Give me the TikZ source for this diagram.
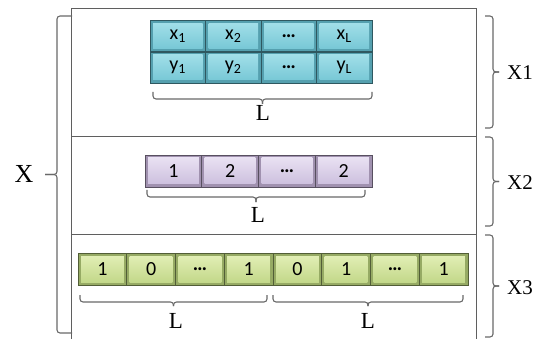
\documentclass[tikz,border=0pt]{standalone}
\usepackage{fontspec}
\setmainfont{Liberation Serif}
\newfontfamily\cellfont{Carlito}
\definecolor{boxline}{RGB}{95,95,95}
\definecolor{brc}{RGB}{105,105,105}
\definecolor{cyanA}{RGB}{160,222,232}
\definecolor{cyanB}{RGB}{120,200,214}
\definecolor{cyanE}{RGB}{85,160,175}
\definecolor{purA}{RGB}{232,224,242}
\definecolor{purB}{RGB}{205,192,222}
\definecolor{purE}{RGB}{160,145,175}
\definecolor{grnA}{RGB}{225,238,180}
\definecolor{grnB}{RGB}{195,216,138}
\definecolor{grnE}{RGB}{150,170,100}
\tikzset{
  cellbox/.style n args={5}{rectangle, inner sep=0pt, minimum width=#1, minimum height=#2,
    font=\cellfont\fontsize{20}{20}\selectfont,
    path picture={
      \fill[#5] (path picture bounding box.south west) rectangle (path picture bounding box.north east);
      \shade[top color=#3, bottom color=#4]
        ([shift={(3pt,-3pt)}]path picture bounding box.north west) rectangle
        ([shift={(-3pt,3pt)}]path picture bounding box.south east);
    }, draw=#5!55!black, line width=0.7pt},
  cyancell/.style={cellbox={55.5pt}{31pt}{cyanA}{cyanB}{cyanE}},
  purcell/.style={cellbox={56.75pt}{32pt}{purA}{purB}{purE}},
  grncell/.style={cellbox={48.75pt}{32pt}{grnA}{grnB}{grnE}},
  bracestyle/.style={draw=brc, line width=1.1pt, rounded corners=3pt},
  boxstyle/.style={draw=boxline, line width=0.9pt},
  lbl/.style={font=\fontsize{23}{23}\selectfont, inner sep=0pt},
  xlbl/.style={font=\fontsize{21}{21}\selectfont, inner sep=0pt},
}
% vertical brace: end x, spine x, tip x, y1, y2
\newcommand{\myvbrace}[5]{%
  \draw[bracestyle] (#1,#4) -- (#2,#4) -- (#2,{(#4+#5)/2}) -- (#3,{(#4+#5)/2});
  \draw[bracestyle] (#3,{(#4+#5)/2}) -- (#2,{(#4+#5)/2}) -- (#2,#5) -- (#1,#5);}
% horizontal brace: end y, spine y, tip y, x1, x2
\newcommand{\myhbrace}[5]{%
  \draw[bracestyle] (#4,#1) -- (#4,#2) -- ({(#4+#5)/2},#2) -- ({(#4+#5)/2},#3);
  \draw[bracestyle] ({(#4+#5)/2},#3) -- ({(#4+#5)/2},#2) -- (#5,#2) -- (#5,#1);}
\begin{document}
\begin{tikzpicture}[x=1pt,y=-1pt]
\useasboundingbox (0,0) rectangle (535,339);
% frame
\draw[boxstyle] (71,345) -- (71,8) -- (476,8) -- (476,345);
\draw[boxstyle] (71,136) -- (476,136);
\draw[boxstyle] (71,234) -- (476,234);
% X1 cells
\node[cyancell] (x1) at (177.75,36) {x\textsubscript{1}};
\node[cyancell] (x2) at (233.25,36) {x\textsubscript{2}};
\node[cyancell] (x3) at (288.75,36) {\textbf{…}};
\node[cyancell] (x4) at (344.25,36) {x\textsubscript{L}};
\node[cyancell] (y1) at (177.75,67.5) {y\textsubscript{1}};
\node[cyancell] (y2) at (233.25,67.5) {y\textsubscript{2}};
\node[cyancell] (y3) at (288.75,67.5) {\textbf{…}};
\node[cyancell] (y4) at (344.25,67.5) {y\textsubscript{L}};
% X2 cells
\node[purcell] (p1) at (173.4,171) {1};
\node[purcell] (p2) at (230.1,171) {2};
\node[purcell] (p3) at (286.9,171) {\textbf{…}};
\node[purcell] (p4) at (343.6,171) {2};
% X3 cells
\node[grncell] (g1) at (102.4,269) {1};
\node[grncell] (g2) at (151.1,269) {0};
\node[grncell] (g3) at (199.9,269) {\textbf{…}};
\node[grncell] (g4) at (248.6,269) {1};
\node[grncell] (g5) at (297.4,269) {0};
\node[grncell] (g6) at (346.1,269) {1};
\node[grncell] (g7) at (394.9,269) {\textbf{…}};
\node[grncell] (g8) at (443.6,269) {1};
% L braces
\myhbrace{92}{99}{104}{153}{372}
\node[lbl] (l1) at (263,113) {L};
\myhbrace{190}{197}{202}{147}{365}
\node[lbl] (l2) at (258,215) {L};
\myhbrace{295}{302}{306}{80}{267}
\node[lbl] (l3) at (176,321) {L};
\myhbrace{295}{302}{306}{273}{463}
\node[lbl] (l4) at (368,321) {L};
% left brace
\myvbrace{72}{57}{45}{16}{333}
\node[font=\fontsize{26}{26}\selectfont, inner sep=0pt] (X) at (24,174) {X};
% right braces
\myvbrace{485}{493}{499}{16}{128}
\node[xlbl] (X1) at (520,73) {X1};
\myvbrace{485}{493}{499}{137}{226}
\node[xlbl] (X2) at (520,183) {X2};
\myvbrace{485}{493}{499}{235}{337}
\node[xlbl] (X3) at (520,288) {X3};
\end{tikzpicture}
\end{document}
